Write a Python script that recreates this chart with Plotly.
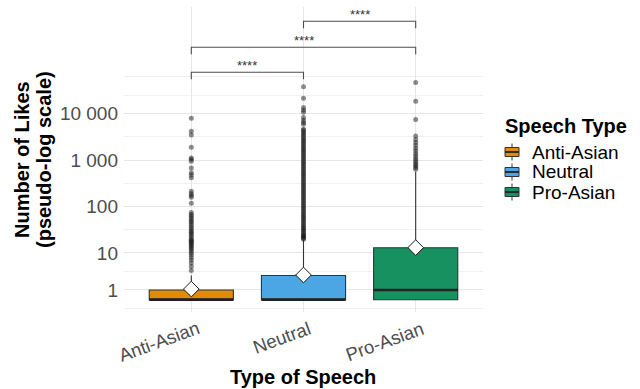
import numpy as np
import plotly.graph_objects as go

# ---------------- data (original units: number of likes) ----------------
categories = ["Anti-Asian", "Neutral", "Pro-Asian"]
box_colors = ["#E08B0A", "#4BA6E3", "#17915F"]

q1_likes = [0, 0, 0]
median_likes = [0, 0, 1]
q3_likes = [1, 3, 13]
whisker_low_likes = [0, 0, 0]
whisker_high_likes = [3, 19, 566]
mean_likes = [1.1, 3.1, 13.1]

outliers_anti = [4, 5, 6, 7, 8, 9, 10, 11, 12, 13, 14, 15, 16, 17, 18, 19, 20, 22, 24, 26,
                 28, 30, 33, 36, 40, 44, 48, 52, 57, 62, 68, 75, 118, 160, 175, 190, 215,
                 420, 480, 540, 680, 950, 1050, 1120, 1900, 3500, 4200, 8000]
outliers_neutral = [20, 21, 22, 23, 24, 25, 27, 29, 31, 33, 35, 38, 41, 44, 48, 52, 56, 60,
                    65, 70, 76, 82, 89, 96, 104, 113, 122, 132, 143, 155, 168, 182, 197, 213,
                    231, 250, 271, 293, 317, 343, 372, 403, 436, 472, 511, 553, 599, 649, 703,
                    761, 824, 892, 966, 1046, 1133, 1227, 1329, 1439, 1558, 1687, 1827, 1978,
                    2142, 2320, 2512, 2720, 2946, 3190, 3455, 3741, 4051, 4400, 4650, 5900,
                    6500, 7200, 8300, 10700, 12000, 13600, 21600, 38000]
outliers_pro = [640, 700, 760, 820, 900, 1000, 1100, 1250, 1400, 1600, 1800, 2100, 2400,
                2800, 3300, 7500, 18600, 47000]
outliers = [outliers_anti, outliers_neutral, outliers_pro]

y_tick_values = [1, 10, 100, 1000, 10000]
y_tick_labels = ["1", "10", "100", "1 000", "10 000"]

comparisons = [(1, 2), (1, 3), (2, 3)]
comparison_labels = ["****", "****", "****"]

# ---------------- layout / style settings ----------------
FONT = "Liberation Sans, Arial, Helvetica, sans-serif"
BOX_WIDTH = 0.75
BRACKET_LEVELS = [4.89, 5.43, 5.99]   # in transformed units
BRACKET_TIP = 0.15
LABEL_OFFSET = 0.145
Y_RANGE = [-0.265, 6.295]
X_RANGE = [0.4, 3.6]
M_L, M_R, M_T, M_B = 124, 157, 7, 77
W, H = 640, 389
PW, PH = W - M_L - M_R, H - M_T - M_B
GRID_MAJOR = "#E6E6E6"
GRID_MINOR = "#F1F1F1"


def pseudo_log(v, sigma=1.0, base=10.0):
    return np.arcsinh(np.asarray(v, dtype=float) / (2 * sigma)) / np.log(base)


def px_x(px):
    return (px - M_L) / PW


def px_y(py):
    return (M_T + PH - py) / PH


# minor breaks as ggplot computes them on the transformed scale
major_t = pseudo_log(y_tick_values)
step = major_t[1] - major_t[0]
ext = np.concatenate([[major_t[0] - step], major_t, [major_t[-1] + step]])
minor_t = list((ext[:-1] + ext[1:]) / 2) + [ext[-1]]

fig = go.Figure()

for i, cat in enumerate(categories):
    pos = i + 1
    fig.add_trace(go.Box(
        x=[pos], q1=[pseudo_log(q1_likes[i])], median=[pseudo_log(median_likes[i])],
        q3=[pseudo_log(q3_likes[i])], lowerfence=[pseudo_log(whisker_low_likes[i])],
        upperfence=[pseudo_log(whisker_high_likes[i])], orientation="v",
        width=BOX_WIDTH, whiskerwidth=0, fillcolor=box_colors[i],
        line=dict(color="#333333", width=1.1), boxpoints=False,
        name=cat, showlegend=False, hoverinfo="skip"))
    # thick median line
    fig.add_trace(go.Scatter(
        x=[pos - BOX_WIDTH / 2, pos + BOX_WIDTH / 2],
        y=[pseudo_log(median_likes[i])] * 2, mode="lines",
        line=dict(color="#222222", width=2.6), showlegend=False, hoverinfo="skip"))
    # outliers
    fig.add_trace(go.Scatter(
        x=[pos] * len(outliers[i]), y=pseudo_log(outliers[i]), mode="markers",
        marker=dict(size=5, color="rgba(25,25,25,0.5)", line=dict(width=0)),
        showlegend=False, hoverinfo="skip"))

# means (diamonds)
fig.add_trace(go.Scatter(
    x=[i + 1 for i in range(len(categories))], y=pseudo_log(mean_likes), mode="markers",
    marker=dict(symbol="diamond", size=12, color="white", line=dict(color="#1a1a1a", width=1)),
    showlegend=False, hoverinfo="skip"))

shapes = []
annotations = []
# significance brackets
for (a, b), lvl, lab in zip(comparisons, BRACKET_LEVELS, comparison_labels):
    shapes.append(dict(
        type="path", xref="x", yref="y",
        path=f"M {a},{lvl - BRACKET_TIP} L {a},{lvl} L {b},{lvl} L {b},{lvl - BRACKET_TIP}",
        line=dict(color="#4d4d4d", width=1.1)))
    annotations.append(dict(
        x=(a + b) / 2, y=lvl + LABEL_OFFSET, xref="x", yref="y", text=lab,
        showarrow=False, xanchor="center", yanchor="middle",
        font=dict(family=FONT, size=13, color="#333333")))

# rotated category labels (ggplot style: anchored at top-right)
for i, cat in enumerate(categories):
    annotations.append(dict(
        x=i + 1, y=px_y(315), xref="x", yref="paper", text=cat,
        showarrow=False, xanchor="right", yanchor="top", textangle=-20, xshift=13,
        font=dict(family=FONT, size=18.5, color="#4D4D4D")))

# manual legend
annotations.append(dict(
    x=px_x(503), y=px_y(126), xref="paper", yref="paper", text="Speech Type",
    showarrow=False, xanchor="left", yanchor="middle",
    font=dict(family=FONT, size=20, color="black", weight="bold")))
for k, (cat, col) in enumerate(zip(categories, box_colors)):
    cy = 152 + 20 * k
    shapes.append(dict(type="line", xref="paper", yref="paper",
                       x0=px_x(512), x1=px_x(512), y0=px_y(cy - 8.5), y1=px_y(cy + 8.5),
                       line=dict(color="#333333", width=1)))
    shapes.append(dict(type="rect", xref="paper", yref="paper",
                       x0=px_x(505), x1=px_x(519), y0=px_y(cy - 4.5), y1=px_y(cy + 4.5),
                       fillcolor=col, line=dict(color="#333333", width=1)))
    shapes.append(dict(type="line", xref="paper", yref="paper",
                       x0=px_x(505), x1=px_x(519), y0=px_y(cy), y1=px_y(cy),
                       line=dict(color="#222222", width=1.8)))
    annotations.append(dict(
        x=px_x(530), y=px_y(cy), xref="paper", yref="paper", text=cat,
        showarrow=False, xanchor="left", yanchor="middle",
        font=dict(family=FONT, size=19, color="black")))

# axis titles
annotations.append(dict(
    x=px_x(303), y=px_y(377), xref="paper", yref="paper", text="Type of Speech",
    showarrow=False, xanchor="center", yanchor="middle",
    font=dict(family=FONT, size=20, color="black", weight="bold")))
annotations.append(dict(
    x=px_x(22), y=px_y(160), xref="paper", yref="paper", text="Number of Likes",
    showarrow=False, xanchor="center", yanchor="middle", textangle=-90,
    font=dict(family=FONT, size=20, color="black", weight="bold")))
annotations.append(dict(
    x=px_x(44), y=px_y(160), xref="paper", yref="paper", text="(pseudo-log scale)",
    showarrow=False, xanchor="center", yanchor="middle", textangle=-90,
    font=dict(family=FONT, size=20, color="black", weight="bold")))

fig.update_layout(
    width=W, height=H,
    margin=dict(l=M_L, r=M_R, t=M_T, b=M_B, pad=0),
    paper_bgcolor="white", plot_bgcolor="white",
    font=dict(family=FONT),
    showlegend=False,
    shapes=shapes, annotations=annotations,
    xaxis=dict(range=X_RANGE, tickmode="array", tickvals=[1, 2, 3], showticklabels=False,
               showgrid=True, gridcolor=GRID_MAJOR, gridwidth=1.3, zeroline=False,
               showline=False, ticks="", fixedrange=True),
    yaxis=dict(range=Y_RANGE, tickmode="array", tickvals=list(major_t), ticktext=y_tick_labels,
               tickfont=dict(family=FONT, size=19, color="#4D4D4D"),
               showgrid=True, gridcolor=GRID_MAJOR, gridwidth=1.3, zeroline=False,
               showline=False, ticks="", ticklabelstandoff=5,
               minor=dict(tickmode="array", tickvals=minor_t, showgrid=True,
                          gridcolor=GRID_MINOR, gridwidth=0.8, ticks=""),
               fixedrange=True),
)

fig.write_html("out.html", config={"displayModeBar": False},
               post_script="document.body.style.margin='0px';")
